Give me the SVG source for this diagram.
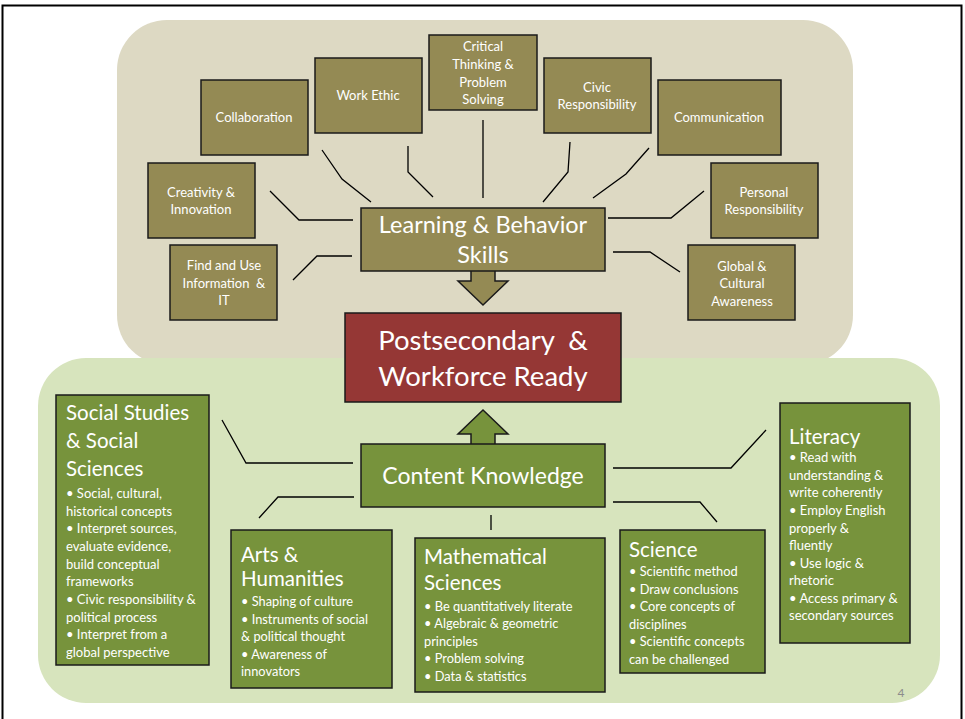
<svg xmlns="http://www.w3.org/2000/svg" width="965" height="719" viewBox="0 0 965 719">
<style>
.olive{fill:#948a54;stroke:#1a1a1a;stroke-width:1.5}
.grn{fill:#77933c;stroke:#1a1a1a;stroke-width:1.5}
.red{fill:#953735;stroke:#1a1a1a;stroke-width:1.5}
.t{font-family:Lato,"Liberation Sans",sans-serif;fill:#ffffff}
.s13{font-size:13px}
.s12{font-size:12.8px}
.c{text-anchor:middle}
.h{font-size:20.5px}
.conn path{fill:none;stroke:#000;stroke-width:1.3}
</style>
<rect x="0" y="0" width="965" height="719" fill="#ffffff"/>
<rect x="2.5" y="5.5" width="959" height="720" fill="none" stroke="#000" stroke-width="2"/>
<rect id="bg-top" x="117" y="20" width="736" height="345" rx="50" fill="#ddd9c3"/>
<rect id="bg-bottom" x="38" y="358" width="902" height="345" rx="48" fill="#d7e4bd"/>

<g class="conn">
<path d="M322,150 L342,179 L371,202"/>
<path d="M408,146 L408,172 L433,197"/>
<path d="M483,120 L483,198"/>
<path d="M570,142 L568,172 L543,202"/>
<path d="M649,148 L626,174 L593,198"/>
<path d="M704,191 L671,218 L608,218"/>
<path d="M613,252 L650,252 L680,272"/>
<path d="M270,191 L299,220 L353,220"/>
<path d="M293,280 L317,256 L352,256"/>
<path d="M222,420 L246,463 L353,463"/>
<path d="M259,518 L278,497 L354,497"/>
<path d="M491,515 L491,530"/>
<path d="M613,502 L700,502 L717,522"/>
<path d="M613,468 L731,468 L766,430"/>
</g>

<g id="collaboration"><rect class="olive" x="201" y="80" width="107" height="75"/><text class="t s13 c" x="254" y="122">Collaboration</text></g>
<g id="work-ethic"><rect class="olive" x="315" y="58" width="107" height="75"/><text class="t s13 c" x="368" y="100">Work Ethic</text></g>
<g id="critical-thinking"><rect class="olive" x="429" y="35" width="108" height="75"/><text class="t s13 c" x="483"><tspan x="483" y="51">Critical</tspan><tspan x="483" y="69">Thinking &amp;</tspan><tspan x="483" y="87">Problem</tspan><tspan x="483" y="104">Solving</tspan></text></g>
<g id="civic-responsibility"><rect class="olive" x="544" y="58" width="107" height="75"/><text class="t s13 c"><tspan x="597" y="92">Civic</tspan><tspan x="597" y="109">Responsibility</tspan></text></g>
<g id="communication"><rect class="olive" x="658" y="80" width="123" height="75"/><text class="t s13 c" x="719" y="122">Communication</text></g>
<g id="creativity"><rect class="olive" x="148" y="163" width="107" height="75"/><text class="t s13 c"><tspan x="201" y="197">Creativity &amp;</tspan><tspan x="201" y="214">Innovation</tspan></text></g>
<g id="personal-responsibility"><rect class="olive" x="711" y="163" width="107" height="75"/><text class="t s13 c"><tspan x="764" y="197">Personal</tspan><tspan x="764" y="214">Responsibility</tspan></text></g>
<g id="find-use-info"><rect class="olive" x="170" y="245" width="107" height="75"/><text class="t s13 c" xml:space="preserve"><tspan x="224" y="270">Find and Use</tspan><tspan x="224" y="288">Information  &amp;</tspan><tspan x="224" y="305">IT</tspan></text></g>
<g id="global-awareness"><rect class="olive" x="688" y="245" width="107" height="75"/><text class="t s13 c"><tspan x="742" y="271">Global &amp;</tspan><tspan x="742" y="288">Cultural</tspan><tspan x="742" y="306">Awareness</tspan></text></g>

<g id="learning-behavior">
<polygon class="olive" points="471,270 495,270 495,281 508,281 483,305 458,281 471,281"/>
<rect class="olive" x="361" y="208" width="244" height="63"/>
<text class="t c" font-size="23.5"><tspan x="483" y="233">Learning &amp; Behavior</tspan><tspan x="483" y="263">Skills</tspan></text>
</g>

<g id="postsecondary">
<rect class="red" x="345" y="313" width="276" height="89"/>
<text class="t c" font-size="27.5" xml:space="preserve"><tspan x="483" y="350">Postsecondary  &amp;</tspan><tspan x="483" y="386">Workforce Ready</tspan></text>
</g>

<g id="content-knowledge">
<polygon class="grn" points="471,445 471,434 458,434 483,410 508,434 495,434 495,445"/>
<rect class="grn" x="361" y="444" width="244" height="63"/>
<text class="t c" font-size="23" x="483" y="484">Content Knowledge</text>
</g>

<g id="social-studies">
<rect class="grn" x="56" y="395" width="153" height="270"/>
<text class="t h"><tspan x="66" y="420">Social Studies</tspan><tspan x="66" y="448">&amp; Social</tspan><tspan x="66" y="476">Sciences</tspan></text>
<text class="t s13"><tspan x="66" y="498">• Social, cultural,</tspan><tspan x="66" y="516">historical concepts</tspan><tspan x="66" y="533">• Interpret sources,</tspan><tspan x="66" y="551">evaluate evidence,</tspan><tspan x="66" y="569">build conceptual</tspan><tspan x="66" y="586">frameworks</tspan><tspan x="66" y="604">• Civic responsibility &amp;</tspan><tspan x="66" y="622">political process</tspan><tspan x="66" y="639">• Interpret from a</tspan><tspan x="66" y="657">global perspective</tspan></text>
</g>

<g id="arts-humanities">
<rect class="grn" x="231" y="530" width="161" height="158"/>
<text class="t h"><tspan x="241" y="562">Arts &amp;</tspan><tspan x="241" y="586">Humanities</tspan></text>
<text class="t s12"><tspan x="241" y="606">• Shaping of culture</tspan><tspan x="241" y="624">• Instruments of social</tspan><tspan x="241" y="641">&amp; political thought</tspan><tspan x="241" y="659">• Awareness of</tspan><tspan x="241" y="676">innovators</tspan></text>
</g>

<g id="mathematical-sciences">
<rect class="grn" x="415" y="538" width="190" height="154"/>
<text class="t h"><tspan x="424" y="564">Mathematical</tspan><tspan x="424" y="590">Sciences</tspan></text>
<text class="t s12"><tspan x="424" y="611">• Be quantitatively literate</tspan><tspan x="424" y="628">• Algebraic &amp; geometric</tspan><tspan x="424" y="646">principles</tspan><tspan x="424" y="663">• Problem solving</tspan><tspan x="424" y="681">• Data &amp; statistics</tspan></text>
</g>

<g id="science">
<rect class="grn" x="620" y="530" width="145" height="143"/>
<text class="t h" x="629" y="557">Science</text>
<text class="t s12"><tspan x="629" y="576">• Scientific method</tspan><tspan x="629" y="594">• Draw conclusions</tspan><tspan x="629" y="611">• Core concepts of</tspan><tspan x="629" y="629">disciplines</tspan><tspan x="629" y="646">• Scientific concepts</tspan><tspan x="629" y="664">can be challenged</tspan></text>
</g>

<g id="literacy">
<rect class="grn" x="780" y="403" width="130" height="240"/>
<text class="t h" x="789" y="444">Literacy</text>
<text class="t s13"><tspan x="789" y="462">• Read with</tspan><tspan x="789" y="480">understanding &amp;</tspan><tspan x="789" y="497">write coherently</tspan><tspan x="789" y="515">• Employ English</tspan><tspan x="789" y="533">properly &amp;</tspan><tspan x="789" y="550">fluently</tspan><tspan x="789" y="568">• Use logic &amp;</tspan><tspan x="789" y="585">rhetoric</tspan><tspan x="789" y="603">• Access primary &amp;</tspan><tspan x="789" y="620">secondary sources</tspan></text>
</g>

<text x="901" y="697" font-family="Lato,'Liberation Sans',sans-serif" font-size="12" fill="#8c8c8c" text-anchor="middle">4</text>
</svg>
